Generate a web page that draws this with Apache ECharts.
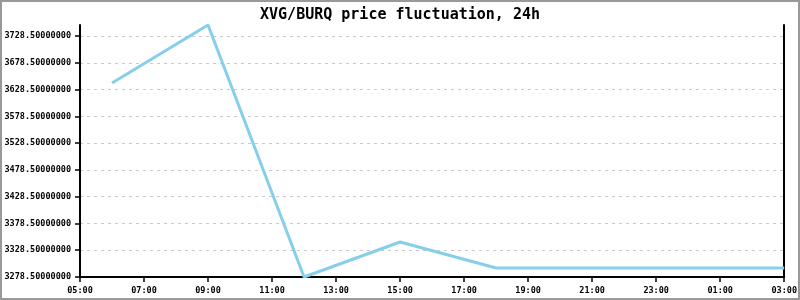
<!DOCTYPE html>
<html><head><meta charset="utf-8">
<script src="https://cdn.jsdelivr.net/npm/echarts@6/dist/echarts.min.js"></script>
<style>html,body{margin:0;padding:0;background:#fff}#c{width:800px;height:300px}</style>
</head><body><div id="c"></div>
<script>
var titleText = 'XVG/BURQ price fluctuation, 24h';
// hours since midnight of day 1 (values > 24 are next day)
var hours = [6, 9, 12, 15, 18, 21, 24, 27];
var prices = [3640.7, 3749.0, 3278.5, 3343.8, 3295.3, 3295.3, 3295.3, 3295.3];
var yMin = 3278.5, yMax = 3749.0, yStep = 50;
var xMin = 5, xMax = 27, xStep = 2;

var font = 'DejaVu Sans Mono';
var chart = echarts.init(document.getElementById('c'), null, {renderer:'canvas'});
chart.setOption({
  animation:false,
  backgroundColor:'#fff',
  title:{text:titleText,left:'center',top:3,textStyle:{fontFamily:font,fontSize:15,fontWeight:'bold',color:'#000'}},
  grid:{left:80,right:15,top:25,bottom:23},
  graphic:[{type:'rect',shape:{x:1,y:1,width:798,height:298},style:{fill:'none',stroke:'#999',lineWidth:2},silent:true,z:100}],
  xAxis:{type:'value',min:xMin,max:xMax,interval:xStep,
    axisLine:{show:true,onZero:false,lineStyle:{color:'#000',width:2}},
    axisTick:{show:true,length:5,lineStyle:{color:'#000',width:1.5}},
    splitLine:{show:false},
    axisLabel:{margin:9,fontFamily:font,fontSize:8.5,fontWeight:'bold',color:'#000',
      formatter:function(v){var h=Math.round(v)%24;return (h<10?'0':'')+h+':00';}}},
  yAxis:[{type:'value',min:yMin,max:yMax,interval:yStep,
    axisLine:{show:true,lineStyle:{color:'#000',width:2}},
    axisTick:{show:true,length:5,lineStyle:{color:'#000',width:1.5}},
    splitLine:{show:true,showMaxLine:false,lineStyle:{color:'#c8c8c8',type:[3,4],width:1}},
    axisLabel:{margin:9,fontFamily:font,fontSize:8.5,fontWeight:'bold',color:'#000',
      formatter:function(v){return v.toFixed(8);},showMaxLabel:false}},
   {type:'value',position:'right',min:yMin,max:yMax,interval:yStep,
    axisLine:{show:true,lineStyle:{color:'#000',width:2}},
    axisTick:{show:false},axisLabel:{show:false},splitLine:{show:false}}],
  series:[{type:'line',data:hours.map(function(h,i){return [h,prices[i]];}),
    showSymbol:false,symbol:'none',lineStyle:{color:'#87ceeb',width:3},itemStyle:{color:'#87ceeb'}}]
});
</script></body></html>
